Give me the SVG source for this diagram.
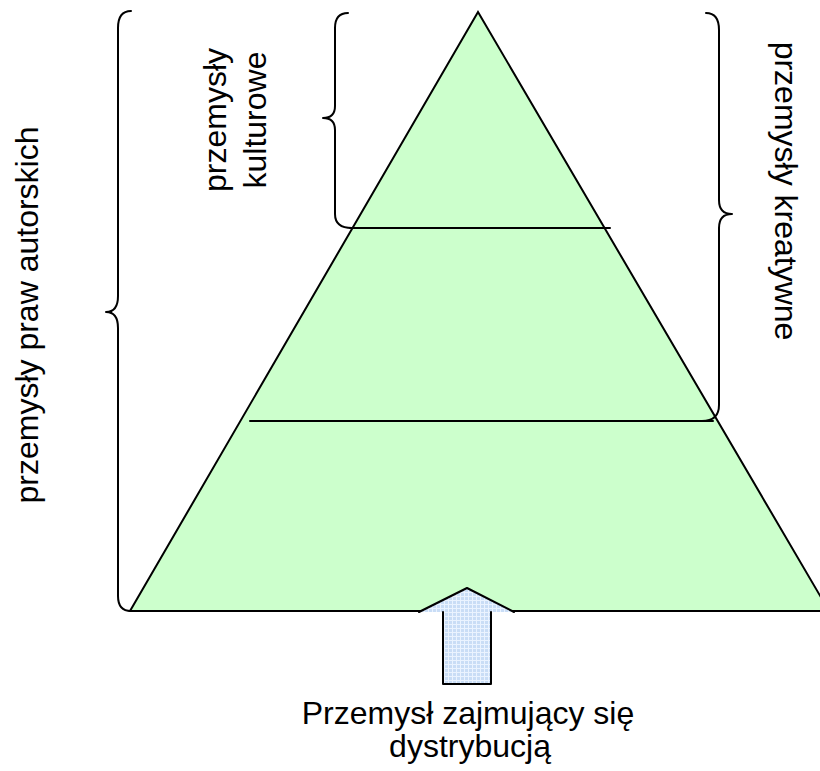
<svg xmlns="http://www.w3.org/2000/svg" width="820" height="771" viewBox="0 0 820 771">
<style>
.ln{fill:none;stroke:#000;stroke-width:2;stroke-linecap:round;stroke-linejoin:round}
.t{font-family:"Liberation Sans",Arial,sans-serif;font-size:32px;fill:#000}
</style>
<defs>
<pattern id="grid" width="4" height="4" patternUnits="userSpaceOnUse">
<rect width="4" height="4" fill="#c9ddf6"/>
<path d="M0 0.5H4M0.5 0V4" stroke="#eaf3ff" stroke-width="1"/>
</pattern>
</defs>
<rect width="820" height="771" fill="#fff"/>
<g id="pyramid">
<polygon points="478,12 130,611 829,611" fill="#ccffcc" stroke="#000" stroke-width="2" stroke-linejoin="miter"/>
</g>
<g id="connectors">
<path class="ln" d="M350,228 L610,228"/>
<path class="ln" d="M250,421 L713,421"/>
<path class="ln" d="M131,11 Q118,11 118,28 L118,296 Q118,312 106,312 Q118,312 118,328 L118,596 Q118,611 131,611"/>
<path class="ln" d="M348,13 Q335,13 335,28 L335,106 Q335,118 323,118 Q335,118 335,130 L335,214 Q335,228 352,228"/>
<path class="ln" d="M706,13 Q719,13 719,30 L719,200 Q719,214 732,214 Q719,214 719,228 L719,405 Q719,421 702,421"/>
</g>
<g id="arrow">
<polygon points="467,588 514,612 491,612 491,684 443,684 443,612 419,612" fill="url(#grid)" stroke="none"/>
<path class="ln" d="M419,612 L467,588 L514,612 M443,612 L443,684 L491,684 L491,612"/>
</g>
<g id="label-left">
<text class="t" font-size="30" transform="translate(38,315) rotate(-90)" text-anchor="middle">przemysły praw autorskich</text>
</g>
<g id="label-cultural">
<text class="t" font-size="30" transform="translate(226,120) rotate(-90)" text-anchor="middle">przemysły</text>
<text class="t" font-size="30" transform="translate(266,120) rotate(-90)" text-anchor="middle">kulturowe</text>
</g>
<g id="label-right">
<text class="t" transform="translate(775,191) rotate(90)" text-anchor="middle">przemysły kreatywne</text>
</g>
<g id="label-bottom">
<text class="t" font-size="31" x="468" y="724" text-anchor="middle">Przemysł zajmujący się</text>
<text class="t" font-size="31" x="470" y="757" text-anchor="middle">dystrybucją</text>
</g>
</svg>
